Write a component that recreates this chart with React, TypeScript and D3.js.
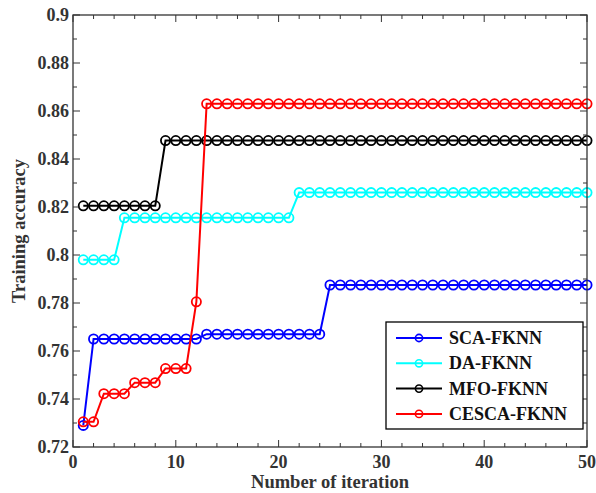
import React from "react";
import * as d3 from "d3";

const iterations: number[] = d3.range(1, 51);

const scaFknn: number[] = [
  0.729, 0.765, 0.765, 0.765, 0.765, 0.765, 0.765, 0.765, 0.765, 0.765,
  0.765, 0.765, 0.767, 0.767, 0.767, 0.767, 0.767, 0.767, 0.767, 0.767,
  0.767, 0.767, 0.767, 0.767, 0.7875, 0.7875, 0.7875, 0.7875, 0.7875, 0.7875,
  0.7875, 0.7875, 0.7875, 0.7875, 0.7875, 0.7875, 0.7875, 0.7875, 0.7875, 0.7875,
  0.7875, 0.7875, 0.7875, 0.7875, 0.7875, 0.7875, 0.7875, 0.7875, 0.7875, 0.7875,
];
const daFknn: number[] = [
  0.798, 0.798, 0.798, 0.798, 0.8155, 0.8155, 0.8155, 0.8155, 0.8155, 0.8155,
  0.8155, 0.8155, 0.8155, 0.8155, 0.8155, 0.8155, 0.8155, 0.8155, 0.8155, 0.8155,
  0.8155, 0.826, 0.826, 0.826, 0.826, 0.826, 0.826, 0.826, 0.826, 0.826,
  0.826, 0.826, 0.826, 0.826, 0.826, 0.826, 0.826, 0.826, 0.826, 0.826,
  0.826, 0.826, 0.826, 0.826, 0.826, 0.826, 0.826, 0.826, 0.826, 0.826,
];
const mfoFknn: number[] = [
  0.8205, 0.8205, 0.8205, 0.8205, 0.8205, 0.8205, 0.8205, 0.8205, 0.8477, 0.8477,
  0.8477, 0.8477, 0.8477, 0.8477, 0.8477, 0.8477, 0.8477, 0.8477, 0.8477, 0.8477,
  0.8477, 0.8477, 0.8477, 0.8477, 0.8477, 0.8477, 0.8477, 0.8477, 0.8477, 0.8477,
  0.8477, 0.8477, 0.8477, 0.8477, 0.8477, 0.8477, 0.8477, 0.8477, 0.8477, 0.8477,
  0.8477, 0.8477, 0.8477, 0.8477, 0.8477, 0.8477, 0.8477, 0.8477, 0.8477, 0.8477,
];
const cescaFknn: number[] = [
  0.7305, 0.7305, 0.7422, 0.7422, 0.7422, 0.7468, 0.7468, 0.7468, 0.7527, 0.7527,
  0.7527, 0.7805, 0.863, 0.863, 0.863, 0.863, 0.863, 0.863, 0.863, 0.863,
  0.863, 0.863, 0.863, 0.863, 0.863, 0.863, 0.863, 0.863, 0.863, 0.863,
  0.863, 0.863, 0.863, 0.863, 0.863, 0.863, 0.863, 0.863, 0.863, 0.863,
  0.863, 0.863, 0.863, 0.863, 0.863, 0.863, 0.863, 0.863, 0.863, 0.863,
];

const seriesNames: string[] = ["SCA-FKNN", "DA-FKNN", "MFO-FKNN", "CESCA-FKNN"];
const seriesColors: string[] = ["#0000ff", "#00ffff", "#000000", "#ff0000"];
const seriesValues: number[][] = [scaFknn, daFknn, mfoFknn, cescaFknn];

const xMajorTicks: number[] = [0, 10, 20, 30, 40, 50];
const xMinorTicks: number[] = d3.range(0, 51, 2);
const yMajorTicks: number[] = [0.72, 0.74, 0.76, 0.78, 0.8, 0.82, 0.84, 0.86, 0.88, 0.9];
const yMinorTicks: number[] = d3.range(72, 91).map((v) => v / 100);

const W = 596;
const H = 493;
const m = { left: 73, right: 587, top: 15, bottom: 447 };
const FONT = "'Liberation Serif', 'Times New Roman', serif";
const AX = "#333";

export default function App() {
  const x = d3.scaleLinear().domain([0, 50]).range([m.left, m.right]);
  const y = d3.scaleLinear().domain([0.72, 0.9]).range([m.bottom, m.top]);
  const line = d3
    .line<number>()
    .x((_, i) => x(iterations[i]))
    .y((d) => y(d));

  const legendX0 = 386;
  const legendY0 = 322;
  const legendRowH = 25.3;

  return (
    <svg
      width={W}
      height={H}
      style={{ position: "absolute", left: 0, top: 0, background: "#fff" }}
    >
      {seriesValues.map((vals, si) => (
        <g key={si}>
          <path d={line(vals) || ""} fill="none" stroke={seriesColors[si]} strokeWidth={2} />
          {vals.map((v, i) => (
            <circle
              key={i}
              cx={x(iterations[i])}
              cy={y(v)}
              r={4.6}
              fill="none"
              stroke={seriesColors[si]}
              strokeWidth={1.8}
            />
          ))}
        </g>
      ))}

      <rect
        x={m.left}
        y={m.top}
        width={m.right - m.left}
        height={m.bottom - m.top}
        fill="none"
        stroke={AX}
        strokeWidth={1.3}
      />
      {xMinorTicks.map((t) => {
        const major = t % 10 === 0;
        const len = major ? 7 : 4;
        return (
          <g key={"xt" + t} stroke={AX} strokeWidth={1}>
            <line x1={x(t)} x2={x(t)} y1={m.bottom} y2={m.bottom - len} />
            <line x1={x(t)} x2={x(t)} y1={m.top} y2={m.top + len} />
          </g>
        );
      })}
      {yMinorTicks.map((t, i) => {
        const major = i % 2 === 0;
        const len = major ? 7 : 4;
        return (
          <g key={"yt" + i} stroke={AX} strokeWidth={1}>
            <line x1={m.left} x2={m.left + len} y1={y(t)} y2={y(t)} />
            <line x1={m.right} x2={m.right - len} y1={y(t)} y2={y(t)} />
          </g>
        );
      })}
      {xMajorTicks.map((t) => (
        <text
          key={"xl" + t}
          x={x(t)}
          y={468}
          textAnchor="middle"
          fontFamily={FONT}
          fontWeight="bold"
          fontSize={18}
          fill={AX}
        >
          {t}
        </text>
      ))}
      {yMajorTicks.map((t) => (
        <text
          key={"yl" + t}
          x={69}
          y={y(t) + 6}
          textAnchor="end"
          fontFamily={FONT}
          fontWeight="bold"
          fontSize={18}
          fill={AX}
        >
          {d3.format("")(t)}
        </text>
      ))}
      <text
        x={(m.left + m.right) / 2}
        y={488}
        textAnchor="middle"
        fontFamily={FONT}
        fontWeight="bold"
        fontSize={18.5}
        fill={AX}
      >
        Number of iteration
      </text>
      <text
        transform={`translate(25,${(m.top + m.bottom) / 2}) rotate(-90)`}
        textAnchor="middle"
        fontFamily={FONT}
        fontWeight="bold"
        fontSize={18.5}
        fill={AX}
      >
        Training accuracy
      </text>

      <rect
        x={legendX0}
        y={legendY0}
        width={583 - legendX0}
        height={429 - legendY0}
        fill="#fff"
        stroke="#000"
        strokeWidth={1.3}
      />
      {seriesNames.map((name, i) => {
        const cy = 338 + i * legendRowH;
        return (
          <g key={"lg" + i}>
            <line x1={396} x2={442} y1={cy} y2={cy} stroke={seriesColors[i]} strokeWidth={2} />
            <circle cx={419} cy={cy} r={3.6} fill="none" stroke={seriesColors[i]} strokeWidth={1.6} />
            <text
              x={449}
              y={cy + 6}
              fontFamily={FONT}
              fontWeight="bold"
              fontSize={18}
              fill="#111"
            >
              {name}
            </text>
          </g>
        );
      })}
    </svg>
  );
}
